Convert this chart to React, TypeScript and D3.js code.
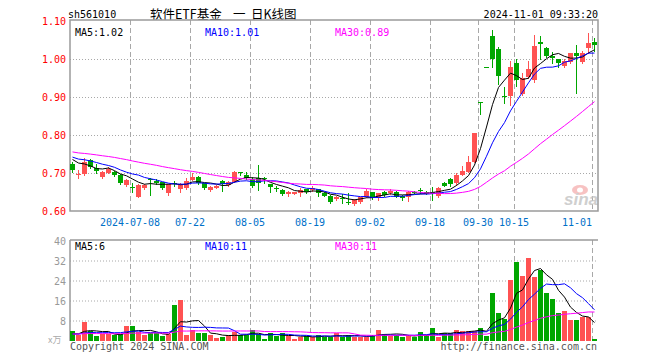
import React from "react";
import * as d3 from "d3";

// ---------- data ----------
const priorClose = [0.775, 0.772, 0.770, 0.768, 0.771, 0.769, 0.766, 0.764, 0.767, 0.765, 0.762, 0.760, 0.758, 0.757, 0.759, 0.755, 0.752, 0.754, 0.750, 0.752, 0.749, 0.747, 0.750, 0.746, 0.748, 0.744, 0.742, 0.743, 0.741];
const openP = [0.724, 0.696, 0.697, 0.734, 0.714, 0.689, 0.701, 0.703, 0.695, 0.668, 0.662, 0.638, 0.660, 0.685, 0.679, 0.675, 0.647, 0.674, 0.658, 0.661, 0.682, 0.690, 0.673, 0.655, 0.661, 0.679, 0.668, 0.677, 0.703, 0.695, 0.683, 0.686, 0.687, 0.670, 0.661, 0.655, 0.644, 0.646, 0.648, 0.657, 0.655, 0.657, 0.648, 0.640, 0.631, 0.633, 0.625, 0.618, 0.624, 0.638, 0.649, 0.638, 0.650, 0.647, 0.650, 0.639, 0.638, 0.651, 0.656, 0.650, 0.650, 0.639, 0.674, 0.683, 0.673, 0.695, 0.703, 0.730, 0.888, 0.978, 1.060, 1.026, 0.902, 0.903, 0.989, 0.908, 0.953, 0.945, 1.045, 1.029, 1.009, 0.999, 0.982, 0.991, 1.015, 0.991, 1.030, 1.044];
const highP = [0.730, 0.708, 0.739, 0.737, 0.725, 0.706, 0.716, 0.706, 0.697, 0.684, 0.674, 0.670, 0.671, 0.686, 0.683, 0.677, 0.671, 0.680, 0.673, 0.688, 0.699, 0.692, 0.674, 0.667, 0.668, 0.682, 0.679, 0.705, 0.703, 0.702, 0.690, 0.721, 0.690, 0.672, 0.666, 0.657, 0.652, 0.651, 0.660, 0.659, 0.666, 0.659, 0.650, 0.642, 0.640, 0.645, 0.648, 0.631, 0.638, 0.657, 0.651, 0.648, 0.652, 0.657, 0.652, 0.641, 0.653, 0.653, 0.661, 0.652, 0.664, 0.664, 0.675, 0.686, 0.699, 0.718, 0.745, 0.804, 0.888, 0.978, 1.076, 1.032, 0.927, 0.995, 0.999, 0.962, 0.995, 1.063, 1.061, 1.031, 1.019, 1.000, 0.999, 1.016, 1.037, 1.020, 1.068, 1.054];
const lowP = [0.703, 0.688, 0.695, 0.714, 0.701, 0.687, 0.699, 0.693, 0.671, 0.666, 0.651, 0.636, 0.658, 0.642, 0.672, 0.658, 0.642, 0.667, 0.651, 0.659, 0.681, 0.672, 0.658, 0.653, 0.660, 0.653, 0.667, 0.676, 0.695, 0.683, 0.664, 0.655, 0.673, 0.651, 0.653, 0.642, 0.640, 0.645, 0.640, 0.647, 0.653, 0.640, 0.639, 0.622, 0.629, 0.620, 0.618, 0.616, 0.622, 0.636, 0.632, 0.629, 0.640, 0.645, 0.637, 0.629, 0.627, 0.647, 0.647, 0.644, 0.629, 0.636, 0.665, 0.665, 0.668, 0.694, 0.702, 0.729, 0.854, 0.978, 0.978, 0.934, 0.885, 0.879, 0.929, 0.905, 0.951, 0.940, 0.999, 1.006, 0.990, 0.980, 0.980, 0.989, 0.911, 0.990, 1.017, 1.022];
const closeP = [0.708, 0.697, 0.730, 0.717, 0.706, 0.703, 0.710, 0.695, 0.673, 0.682, 0.661, 0.668, 0.668, 0.682, 0.673, 0.660, 0.670, 0.673, 0.670, 0.680, 0.690, 0.673, 0.661, 0.664, 0.666, 0.671, 0.677, 0.703, 0.702, 0.688, 0.667, 0.673, 0.685, 0.664, 0.660, 0.645, 0.651, 0.649, 0.655, 0.649, 0.660, 0.647, 0.640, 0.624, 0.638, 0.632, 0.624, 0.629, 0.636, 0.653, 0.633, 0.647, 0.641, 0.653, 0.638, 0.633, 0.649, 0.649, 0.655, 0.646, 0.645, 0.660, 0.666, 0.670, 0.695, 0.705, 0.730, 0.804, 0.888, 0.978, 1.000, 0.956, 0.900, 0.980, 0.945, 0.949, 0.973, 1.034, 1.039, 1.008, 1.002, 0.990, 0.996, 1.015, 1.009, 1.017, 1.043, 1.037];
const priorVolume = [2.6, 3.1, 2.4, 2.2, 2.9, 3.4, 2.5, 2.1, 2.8, 2.3, 3.0, 2.6, 2.2, 2.7, 3.2, 2.4, 2.0, 2.6, 2.9, 2.3, 2.5, 2.8, 2.1, 2.4, 2.7, 2.2, 2.6, 2.3, 2.5];
const volume = [3.8, 2.2, 7.5, 3.8, 1.8, 2.5, 2.5, 2.2, 2.5, 5.8, 5.8, 3.5, 2.2, 2.9, 2.9, 1.8, 2.5, 14.2, 16.2, 2.2, 4.2, 3.1, 3.1, 2.2, 0.9, 1.5, 2.2, 3.5, 2.2, 2.2, 4.2, 2.5, 0.6, 2.9, 1.8, 2.9, 1.8, 0.6, 1.5, 1.8, 1.5, 2.2, 1.5, 1.5, 2.9, 1.5, 2.2, 1.5, 1.5, 1.5, 2.2, 4.2, 2.7, 1.8, 2.2, 1.5, 2.0, 1.5, 3.3, 2.2, 4.9, 1.5, 2.9, 2.9, 4.2, 3.9, 3.9, 3.9, 4.9, 1.8, 19.1, 11.1, 8.5, 24.2, 31.5, 25.8, 33.0, 25.5, 28.2, 18.9, 16.7, 11.1, 11.9, 8.2, 8.2, 9.5, 9.3, 0.7];
const tickIndex = [10, 20, 30, 40, 50, 60, 68, 74, 87];
const tickLabels = ["2024-07-08", "07-22", "08-05", "08-19", "09-02", "09-18", "09-30", "10-15", "11-01"];
const priceTicks = [0.6, 0.7, 0.8, 0.9, 1.0, 1.1];
const volumeTicks = [8, 16, 24, 32, 40];
const priceMaLabels = ["MA5:1.02", "MA10:1.01", "MA30:0.89"];
const volumeMaLabels = ["MA5:6", "MA10:11", "MA30:11"];
const maPeriods = [5, 10, 30];
const symbol = "sh561010";
const titleParts = ["软件ETF基金", "一", "日K线图"];
const timestamp = "2024-11-01 09:33:20";

// ---------- style ----------
const RED = "#ff5252";
const GREEN = "#00a600";
const MA_COLORS = ["#000000", "#0000ff", "#ff00ff"];
const GRID = "#a8a8a8";
const BORDER = "#9a9a9a";
const MONO = "'DejaVu Sans Mono', monospace";
const CJK = "'Noto Sans CJK SC', sans-serif";

function movingAverage(prior: number[], data: number[], n: number): number[] {
  const all = prior.concat(data);
  const off = prior.length;
  return data.map((_, i) => d3.mean(all.slice(off + i - n + 1, off + i + 1)) as number);
}

export default function App() {
  const N = closeP.length;
  const idx = d3.range(N);
  const L = 70, R = 598;
  const x = d3.scaleBand<number>().domain(idx).range([L, R]).padding(0);
  const bw = x.bandwidth();
  const y = d3.scaleLinear().domain([0.6, 1.1]).range([211, 21]);
  const vy = d3.scaleLinear().domain([0, 40]).range([340.5, 240.5]);

  const priceMA = maPeriods.map((n) => movingAverage(priorClose, closeP, n));
  const volMA = maPeriods.map((n) => movingAverage(priorVolume, volume, n));
  const cx = (i: number) => (x(i) as number) + 2.5;
  const pLine = d3.line<number>().x((_, i) => cx(i)).y((d) => y(d));
  const vLine = d3.line<number>().x((_, i) => cx(i)).y((d) => vy(d));

  return (
    <svg width={660} height={360} style={{ position: "absolute", left: 0, top: 0, background: "#fff" }}>
      <rect width={660} height={360} fill="#fff" />
      {/* header */}
      <text x={68} y={18} fontFamily={MONO} fontSize={10} fill="#000">{symbol}</text>
      <text x={150} y={19} fontFamily={CJK} fontSize={12.5} fill="#000">{titleParts[0]}</text>
      <text x={233} y={19} fontFamily={CJK} fontSize={12.5} fill="#000">{titleParts[1]}</text>
      <text x={251} y={19} fontFamily={CJK} fontSize={12.5} fill="#000">{titleParts[2]}</text>
      <text x={598} y={18} fontFamily={MONO} fontSize={10} fill="#000" textAnchor="end">{timestamp}</text>

      {/* price grid */}
      {priceTicks.filter((t) => t > 0.6 && t < 1.1).map((t) => (
        <line key={"pg" + t} x1={L} x2={R} y1={Math.round(y(t)) + 0.5} y2={Math.round(y(t)) + 0.5} stroke={GRID} strokeDasharray="1,2" />
      ))}
      {tickIndex.map((ti) => (
        <line key={"pv" + ti} x1={(x(ti) as number) + 0.5} x2={(x(ti) as number) + 0.5} y1={20} y2={211} stroke={GRID} strokeDasharray="5,3" />
      ))}
      {/* volume grid */}
      {volumeTicks.filter((t) => t < 40).map((t) => (
        <line key={"vg" + t} x1={L} x2={R} y1={Math.round(vy(t))} y2={Math.round(vy(t))} stroke={GRID} strokeDasharray="1,2" />
      ))}
      {tickIndex.map((ti) => (
        <line key={"vv" + ti} x1={(x(ti) as number) + 0.5} x2={(x(ti) as number) + 0.5} y1={240} y2={341} stroke={GRID} strokeDasharray="5,3" />
      ))}

      {/* sina watermark */}
      <g opacity={0.8}>
        <ellipse cx={580} cy={190} rx={8} ry={5} fill="#f6b4b4" />
        <ellipse cx={580} cy={190} rx={3} ry={2.5} fill="#fff" />
        <text x={564} y={205} fontFamily="'Liberation Sans', sans-serif" fontStyle="italic" fontWeight="bold" fontSize={17} fill="#c4c4c4">sina</text>
      </g>

      {/* borders */}
      <rect x={70} y={20} width={R - 70} height={191} fill="none" stroke={BORDER} strokeWidth={1.5} />
      <line x1={70} x2={R} y1={240} y2={240} stroke={BORDER} strokeWidth={1.5} />
      <line x1={70} x2={70} y1={240} y2={341} stroke={BORDER} strokeWidth={1.5} />

      {/* candles */}
      {idx.map((i) => {
        const o = openP[i], c = closeP[i];
        const col = c > o ? RED : GREEN;
        const x0 = x(i) as number;
        const top = Math.round(y(Math.max(o, c)));
        const bot = Math.round(y(Math.min(o, c)));
        return (
          <g key={"c" + i}>
            <line x1={x0 + 2.5} x2={x0 + 2.5} y1={Math.round(y(highP[i]))} y2={Math.round(y(lowP[i])) + 1} stroke={col} strokeWidth={1} />
            <rect x={x0} y={top} width={bw - 1} height={Math.max(1, bot - top)} fill={col} />
          </g>
        );
      })}
      {priceMA.map((m, k) => (
        <path key={"pm" + k} d={pLine(m) as string} fill="none" stroke={MA_COLORS[k]} strokeWidth={1} />
      ))}

      {/* volume bars */}
      {idx.map((i) => {
        const col = closeP[i] > openP[i] ? RED : GREEN;
        const top = Math.round(vy(volume[i]));
        return <rect key={"v" + i} x={x(i) as number} y={top} width={bw - 1} height={341 - top} fill={col} />;
      })}
      {volMA.map((m, k) => (
        <path key={"vm" + k} d={vLine(m) as string} fill="none" stroke={MA_COLORS[k]} strokeWidth={1} />
      ))}

      {/* axis labels */}
      {priceTicks.map((t) => (
        <text key={"pl" + t} x={66} y={y(t) + 4} fontFamily={MONO} fontSize={10} fill="#ff0000" textAnchor="end">{t.toFixed(2)}</text>
      ))}
      {volumeTicks.map((t) => (
        <text key={"vl" + t} x={66} y={vy(t) + 4} fontFamily={MONO} fontSize={10} fill="#999" textAnchor="end">{t}</text>
      ))}
      <text x={48} y={343} fontFamily={CJK} fontSize={9} fill="#aaa">x万</text>
      {tickIndex.map((ti, k) => (
        <text key={"dl" + ti} x={x(ti) as number} y={226} fontFamily={MONO} fontSize={10} fill="#0070c8"
          textAnchor={k === tickIndex.length - 1 ? "end" : "middle"}>{tickLabels[k]}</text>
      ))}

      {/* MA labels */}
      {priceMaLabels.map((s, k) => (
        <text key={"pml" + k} x={[75, 205, 335][k]} y={36} fontFamily={MONO} fontSize={10} fill={MA_COLORS[k]}>{s}</text>
      ))}
      {volumeMaLabels.map((s, k) => (
        <text key={"vml" + k} x={[75, 205, 335][k]} y={250} fontFamily={MONO} fontSize={10} fill={MA_COLORS[k]}>{s}</text>
      ))}

      {/* footer */}
      <text x={70} y={350} fontFamily={MONO} fontSize={10} fill="#555">Copyright 2024 SINA.COM</text>
      <text x={597} y={350} fontFamily={MONO} fontSize={10} fill="#555" textAnchor="end">http://finance.sina.com.cn</text>
    </svg>
  );
}
